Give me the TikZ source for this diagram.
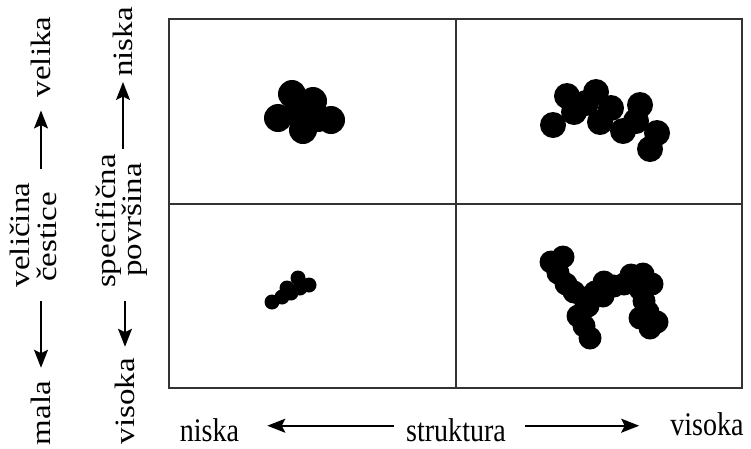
\documentclass[tikz,border=0pt]{standalone}
\usepackage{fontspec}
\setmainfont{Liberation Serif}
\usetikzlibrary{arrows.meta}
% narrow the lettering a little; \vlabel turns it to read upwards first
\newcommand{\hlabel}[1]{\scalebox{0.85}[1]{#1}}
\newcommand{\vlabel}[1]{\scalebox{0.85}[1]{\rotatebox{90}{#1}}}
\begin{document}
\begin{tikzpicture}[x=1pt,y=-1pt,
  lbl/.style={inner sep=0pt, font=\fontsize{33}{33}\selectfont},
  axisarrow/.style={line width=1.8pt, -{Stealth[length=18pt,width=14pt,inset=3.5pt]}},
  frame/.style={draw=black!80, line width=2pt},
  blob/.style={fill=black}]

\useasboundingbox (0,0) rectangle (751,448);

% the four-field frame
\draw[frame] (169,19) rectangle (742,388);
\draw[frame] (456,19) -- (456,388);
\draw[frame] (169,204) -- (742,204);

% particle size axis
\node[lbl] (velika)   at (41,57)   {\vlabel{velika}};
\node[lbl] (velicina) at (20,235)  {\vlabel{veličina}};
\node[lbl] (cestice)  at (47,237)  {\vlabel{čestice}};
\node[lbl] (mala)     at (41,413)  {\vlabel{mala}};
\draw[axisarrow, shorten <=14pt, shorten >=13pt] (velicina.north -| velika) -- (velika.south);
\draw[axisarrow, shorten <=14pt, shorten >=13pt] (velicina.south -| mala) -- (mala.north);

% specific surface axis
\node[lbl] (niskaV)    at (123,42)  {\vlabel{niska}};
\node[lbl] (specif)    at (109,221) {\vlabel{specifična}};
\node[lbl] (povrsina)  at (135,220) {\vlabel{površina}};
\node[lbl] (visokaV)   at (125,401) {\vlabel{visoka}};
\draw[axisarrow, shorten <=5pt, shorten >=5pt] (specif.north -| niskaV) -- (niskaV.south);
\draw[axisarrow, shorten <=13pt, shorten >=11pt] (specif.south -| visokaV) -- (visokaV.north);

% structure axis
\node[lbl, anchor=base] (niskaH)    at (209.5,441) {\hlabel{niska}};
\node[lbl, anchor=base] (struktura) at (456,441)   {\hlabel{struktura}};
\node[lbl, anchor=base] (visokaH)   at (707,435)   {\hlabel{visoka}};
\draw[axisarrow, shorten <=12pt, shorten >=28pt]
  ([yshift=4pt]struktura.west) -- ([yshift=4pt]struktura.west -| niskaH.east);
\draw[axisarrow, shorten <=19pt, shorten >=31pt]
  ([yshift=4pt]struktura.east) -- ([yshift=4pt]struktura.east -| visokaH.west);

% compact coarse agglomerate
\foreach \x/\y in {292/94, 313/101, 278/118, 303/130, 331/120, 297/112, 318/118}
  \fill[blob] (\x,\y) circle (14);

% open coarse agglomerate
\foreach \x/\y in {553/125, 567/96, 574/112, 596/92, 600/122, 611/108,
                   586/103, 623/131, 640/105, 636/121, 657/133, 650/149}
  \fill[blob] (\x,\y) circle (13);

% compact fine agglomerate
\foreach \x/\y in {272/302, 282/297, 287/288, 291/293, 298/278, 309/285, 300/288}
  \fill[blob] (\x,\y) circle (7.5);

% branched fine agglomerate
\foreach \x/\y in {551/262, 563/257, 558/273, 566/284, 574/292, 584/298,
                   588/306, 578/316, 584/326, 590/338, 595/292, 604/282,
                   603/296, 614/286, 624/284, 631/275, 643/274, 652/284,
                   640/289, 644/301, 648/312, 657/322, 650/328, 640/318}
  \fill[blob] (\x,\y) circle (11.5);
\end{tikzpicture}
\end{document}
